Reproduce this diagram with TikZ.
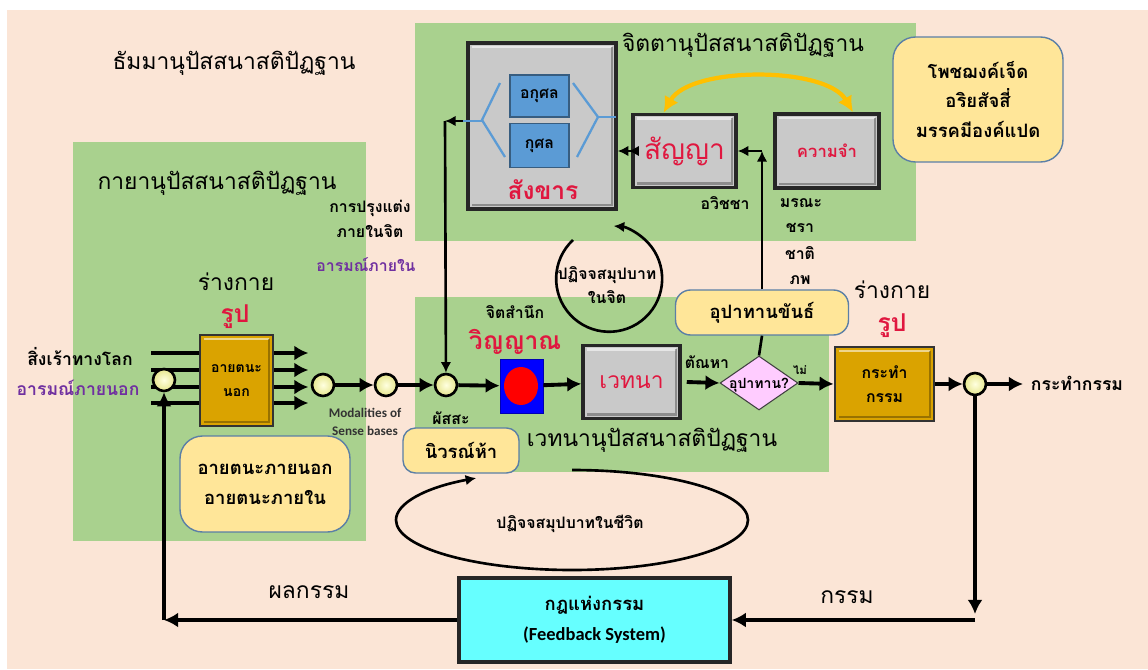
\documentclass[tikz,border=0pt]{standalone}
\usepackage{fontspec}
\setmainfont{Loma}[Script=Thai]
\newfontfamily\enfont{Carlito}
\usepackage{tikz}
\usetikzlibrary{arrows.meta,shapes.geometric}

\definecolor{peach}{HTML}{FBE5D6}
\definecolor{leaf}{HTML}{A9D18E}
\definecolor{boxgray}{HTML}{C9C9C9}
\definecolor{kblue}{HTML}{5B9BD5}
\definecolor{txtred}{HTML}{E0173F}
\definecolor{mauve}{HTML}{7030A0}
\definecolor{gold}{HTML}{DAA300}
\definecolor{note}{HTML}{FFE699}
\definecolor{noteedge}{HTML}{5B7FA6}
\definecolor{pinkish}{HTML}{FFCCFF}
\definecolor{fbcyan}{HTML}{66FFFF}
\definecolor{amber}{HTML}{FFC000}
\definecolor{ballin}{HTML}{FFFFE0}
\definecolor{ballout}{HTML}{E6E68C}

\tikzset{
  head/.style={font=\fontsize{13}{15}\selectfont},
  lbl/.style={font=\fontsize{9}{14}\selectfont\bfseries,align=center},
  midlbl/.style={font=\fontsize{10.5}{17}\selectfont\bfseries,align=center},
  redtxt/.style={text=txtred,font=\fontsize{14}{16}\selectfont\bfseries},
  bevel/.style={path picture={
    \draw [white,opacity=0.55,line width=1.4pt] ([shift={(2.2pt,-2.2pt)}]path picture bounding box.north west) -- ([shift={(-2.2pt,-2.2pt)}]path picture bounding box.north east);
    \draw [black,opacity=0.3,line width=1.4pt] ([shift={(-2.2pt,-2.2pt)}]path picture bounding box.north east) -- ([shift={(-2.2pt,2.2pt)}]path picture bounding box.south east) -- ([shift={(2.2pt,2.2pt)}]path picture bounding box.south west);}},
  graybox/.style={draw=black!85,fill=boxgray,line width=2pt,inner sep=0,bevel},
  bluebox/.style={draw=kblue!60!black,fill=kblue,line width=0.6pt,minimum width=1.18cm,inner sep=0,lbl},
  goldbox/.style={draw=black!80,fill=gold,line width=1.6pt,inner sep=0,lbl,bevel},
  notebox/.style={draw=noteedge,fill=note,line width=0.8pt,rounded corners=0.45cm,inner sep=0,midlbl},
  ball/.style={circle,draw=black,line width=1.5pt,inner color=ballin,outer color=ballout,minimum size=0.44cm,inner sep=0},
  flow/.style={line width=2.2pt,>={Latex[length=8pt,width=8.5pt]}},
  link/.style={line width=1.5pt,>={Latex[length=6pt,width=6pt]}},
  bracket/.style={kblue,line width=1.3pt},
}

\begin{document}
\begin{tikzpicture}[x=0.02cm,y=-0.02cm]
%\draw (0,0) grid (1148,669);
\useasboundingbox (0,0) rectangle (1148,669);
\fill [peach] (7,10) rectangle (1148,669);
\fill [leaf] (415,23) rectangle (916,241);
\fill [leaf] (73,142) rectangle (366,541);
\fill [leaf] (415,297) rectangle (829,472);

\node [head] (dhamma) at (234,63) {ธัมมานุปัสสนาสติปัฏฐาน};
\node [head] (citta) at (743,45) {จิตตานุปัสสนาสติปัฏฐาน};
\node [head] (kaya) at (217,183) {กายานุปัสสนาสติปัฏฐาน};
\node [head] (vedtitle) at (652,440) {เวทนานุปัสสนาสติปัฏฐาน};

% mind
\node [graybox,minimum width=2.96cm,minimum height=3.32cm] (sankhara) at (542,126) {};
\node [bluebox,minimum height=0.84cm] (akusala) at (539.5,96) {อกุศล};
\node [bluebox,minimum height=0.88cm] (kusala) at (539.5,145.5) {กุศล};
\node [redtxt] (sankharalbl) at (543,190) {สังขาร};
\draw [bracket] (500,83) -- (482,120) -- (505,157); \draw [bracket] (463,121) -- (482,121);
\draw [bracket] (573,83) -- (598,117) -- (577,157); \draw [bracket] (598,117) -- (616,117);

\node [graybox,minimum width=2.06cm,minimum height=1.46cm,redtxt,font=\fontsize{16}{18}\selectfont] (sanya) at (684.5,151) {สัญญา};
\node [graybox,minimum width=2.08cm,minimum height=1.48cm,redtxt,font=\fontsize{9.5}{11}\selectfont\bfseries] (memory) at (827,151) {ความจำ};
\draw [amber,line width=2.4pt,{Latex[length=9pt,width=9pt]}-{Latex[length=9pt,width=9pt]}] ([xshift=-0.42cm]sanya.north) .. controls (690,66) and (826,66) .. ([xshift=0.52cm]memory.north);

\node [notebox,minimum width=3.4cm,minimum height=2.5cm] (bojjhanga) at (978,99.5) {โพชฌงค์เจ็ด\\อริยสัจสี่\\มรรคมีองค์แปด};

\node [lbl] (avijja) at (725,203) {อวิชชา};
\node [lbl] (marana) at (801,203) {มรณะ}; \node [lbl] (chara) at (800,228) {ชรา};
\node [lbl] (chati) at (800,253) {ชาติ}; \node [lbl] (bhava) at (800,280) {ภพ};

\node [lbl] (pakcitta) at (607,285) {ปฏิจจสมุปบาท\\ในจิต};
\coordinate (cycstart) at (573,240);
\draw [link,->] (cycstart) arc [start angle=227,end angle=-85,radius=53];

% body, left
\node [head] (body1) at (236,282) {ร่างกาย};
\node [redtxt] (rupa1) at (235,317) {รูป};
\node [lbl] (prung) at (370,219) {การปรุงแต่ง\\ภายในจิต};
\node [lbl,text=mauve] (inner) at (366,265) {อารมณ์ภายใน};
\node [lbl,font=\fontsize{10}{12}\selectfont\bfseries] (stim) at (80,357) {สิ่งเร้าทางโลก};
\node [lbl,text=mauve,font=\fontsize{10}{12}\selectfont\bfseries] (outer) at (78,388) {อารมณ์ภายนอก};

\node [goldbox,minimum width=1.46cm,minimum height=1.82cm,font=\fontsize{8}{13.6}\selectfont\bfseries] (sense) at (236.5,380.5) {อายตนะ\\นอก};
\foreach \y in {353,370,387,403} {
  \draw [flow] (sense.west |- 0,\y) -- ++(-48,0);
  \draw [flow,->] (sense.east |- 0,\y) -- ++(34,0);
}
\node [ball] (cin) at (164,380) {};
\node [notebox,minimum width=3.4cm,minimum height=1.92cm] (ayatana) at (265,484) {อายตนะภายนอก\\อายตนะภายใน};

% flow
\node [ball] (c1) at (323,385) {};
\node [ball] (c2) at (386,385) {};
\node [ball] (phassa) at (446,385) {};
\node [font=\enfont\fontsize{7.5}{10.5}\selectfont\bfseries,align=center,text=black!80] (modal) at (365,422) {Modalities of\\Sense bases};
\node [lbl] (phassalbl) at (451,418) {ผัสสะ};
\node [notebox,rounded corners=0.25cm,minimum width=2.32cm,minimum height=0.9cm] (nivarana) at (461,450.5) {นิวรณ์ห้า};

\node [lbl] (jit) at (515,312) {จิตสำนึก};
\node [redtxt] (vinyanalbl) at (515,342) {วิญญาณ};
\node [draw=blue!70!black,fill=blue,minimum width=0.86cm,minimum height=1.08cm,inner sep=0] (vinyana) at (521.5,386) {};
\node [ellipse,fill=red,minimum width=0.68cm,minimum height=0.76cm,inner sep=0] (dot) at (521,386) {};

\node [graybox,minimum width=1.94cm,minimum height=1.46cm,redtxt,font=\fontsize{13}{15}\selectfont] (vedana) at (631.5,382) {เวทนา};
\node [lbl] (tanha) at (707,362) {ตัณหา};
\node [diamond,draw=black!75,fill=pinkish,line width=0.6pt,minimum width=1.56cm,minimum height=1.08cm,inner sep=0] (upadanaq) at (759,383) {};
\node [font=\fontsize{8}{10}\selectfont\bfseries] (upadanaqlbl) at (759,385) {อุปาทาน?};
\node [font=\fontsize{6.5}{8}\selectfont\bfseries] (no) at (800,370) {ไม่};
\node [notebox,rounded corners=0.3cm,minimum width=3.46cm,minimum height=0.9cm] (upadana) at (762,312.5) {อุปาทานขันธ์};

\node [head] (body2) at (892,290) {ร่างกาย};
\node [redtxt] (rupa2) at (892,326) {รูป};
\node [goldbox,minimum width=1.98cm,minimum height=1.48cm,font=\fontsize{9}{14}\selectfont\bfseries] (kratham) at (884.5,384) {กระทำ\\กรรม};
\node [ball] (cout) at (975,384) {};
\coordinate (act) at (1023,384);
\node [lbl,font=\fontsize{10}{12}\selectfont\bfseries] (actlbl) at (1077,383) {กระทำกรรม};

\draw [flow,->] (c1) -- (c2); \draw [flow,->] (c2) -- (phassa); \draw [flow,->] (phassa) -- (vinyana);
\draw [flow,->] (vinyana) -- (vedana); \draw [flow,->] ([xshift=0.1cm]vedana.east) -- (upadanaq.west);
\draw [flow,->] (upadanaq.east) -- (kratham.west); \draw [flow,->] (kratham) -- (cout); \draw [flow,->] (cout) -- (act);

% feedback from mind
\coordinate (skout) at (463,121); \coordinate (skturn) at (445,121);
\draw [link,->] (skout) -- (skturn); \draw [link,->] (skturn) -- (phassa);
\draw [link,->>] (sanya.west) -- (sankhara.east |- sanya.west);
\coordinate (corner) at (upadana.north |- sanya.east);
\draw [link,->] (upadana.north) -- (corner); \draw [link,->] (corner) -- (sanya.east);
\draw [link] (upadanaq.north) -- (upadana.south);

% life cycle
\node [lbl] (pakchiwit) at (570,524) {ปฏิจจสมุปบาทในชีวิต};
\coordinate (bigstart) at (572,470);
\draw [link,->] (bigstart) arc [start angle=-90,end angle=237,x radius=176,y radius=50];

% law of kamma
\node [draw=black!85,fill=fbcyan,line width=2pt,minimum width=5.42cm,minimum height=1.68cm,midlbl] (feedback) at (594.5,620) {กฎแห่งกรรม\\{\enfont (Feedback System)}};
\coordinate (fbdown) at (975,614); \coordinate (fbin) at (975,620); \coordinate (ret) at (164,620);
\draw [flow,->] (cout) -- (fbdown); \draw [flow,->] (fbin) -- (feedback);
\draw [flow,->] (feedback) -- (ret); \draw [flow,->] (ret) -- (cin);
\node [head] (kamma) at (847,597) {กรรม};
\node [head] (phala) at (309,592) {ผลกรรม};
\end{tikzpicture}
\end{document}
